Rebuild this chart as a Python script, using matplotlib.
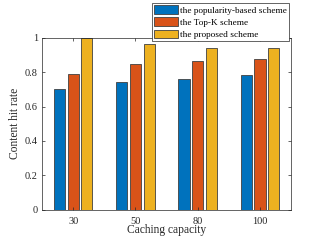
import numpy as np
import matplotlib
matplotlib.use('Agg')
import matplotlib.pyplot as plt

capacities = ['30', '50', '80', '100']
popularity = [0.70, 0.743, 0.762, 0.781]
topk = [0.789, 0.847, 0.866, 0.876]
proposed = [1.0, 0.963, 0.942, 0.942]
series_names = ['the popularity-based scheme', 'the Top-K scheme', 'the proposed scheme']
colors = ['#0072BD', '#D95319', '#EDB120']

plt.rcParams['font.family'] = ['Liberation Serif', 'DejaVu Serif']

fig = plt.figure(figsize=(3.21, 2.41), dpi=100)
ax = fig.add_axes([0.131, 0.129, 0.776, 0.715])

x = np.arange(1, len(capacities) + 1)
w = 0.18
gap = 0.22
for i, (vals, name) in enumerate(zip([popularity, topk, proposed], series_names)):
    ax.bar(x + (i - 1) * gap, vals, width=w, color=colors[i], edgecolor='#404040',
           linewidth=0.6, label=name)

ax.set_xlim(0.5, 4.5)
ax.set_ylim(0, 1)
ax.set_xticks(x)
ax.set_xticklabels(capacities)
ax.set_yticks([0, 0.2, 0.4, 0.6, 0.8, 1])
ax.set_yticklabels(['0', '0.2', '0.4', '0.6', '0.8', '1'])
ax.tick_params(direction='in', top=True, right=True, length=2.5, width=0.5,
               labelsize=7.5, colors='#262626', pad=3)
ax.tick_params(axis='x', pad=5)
for s in ax.spines.values():
    s.set_color('#262626')
    s.set_linewidth(0.5)

ax.set_xlabel('Caching capacity', fontsize=8.3, color='#262626', labelpad=-1)
ax.set_ylabel('Content hit rate', fontsize=8.3, color='#262626', labelpad=3)

leg = ax.legend(loc='upper right', bbox_to_anchor=(0.992, 1.201), fontsize=6.7,
                fancybox=False, framealpha=1, edgecolor='#262626',
                handlelength=2.5, handleheight=1.0, handletextpad=0.25,
                labelspacing=0.3, borderpad=0.25, borderaxespad=0)
leg.get_frame().set_linewidth(0.5)

fig.savefig('out.png', dpi=100)
